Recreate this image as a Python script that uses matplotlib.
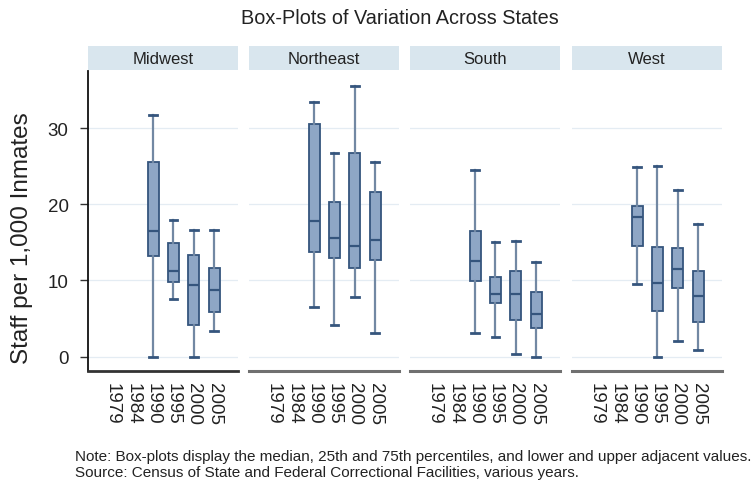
import matplotlib
matplotlib.use("Agg")
import matplotlib.pyplot as plt

plt.rcParams['font.family'] = ['Liberation Sans', 'DejaVu Sans']

regions = ["Midwest", "Northeast", "South", "West"]
years = ["1979", "1984", "1990", "1995", "2000", "2005"]
box_years = ["1990", "1995", "2000", "2005"]

# per region: lists over box_years
whislo = {
    "Midwest":   [0.0, 7.6, 0.0, 3.4],
    "Northeast": [6.5, 4.2, 7.8, 3.1],
    "South":     [3.1, 2.6, 0.35, 0.0],
    "West":      [9.5, 0.0, 2.0, 0.9],
}
q1 = {
    "Midwest":   [13.2, 9.8, 4.2, 5.8],
    "Northeast": [13.8, 13.0, 11.7, 12.7],
    "South":     [9.9, 7.05, 4.8, 3.8],
    "West":      [14.5, 6.0, 9.0, 4.5],
}
med = {
    "Midwest":   [16.5, 11.25, 9.4, 8.75],
    "Northeast": [17.85, 15.6, 14.5, 15.3],
    "South":     [12.55, 8.2, 8.2, 5.6],
    "West":      [18.3, 9.7, 11.5, 7.9],
}
q3 = {
    "Midwest":   [25.6, 14.9, 13.35, 11.7],
    "Northeast": [30.6, 20.3, 26.7, 21.6],
    "South":     [16.45, 10.45, 11.25, 8.5],
    "West":      [19.8, 14.45, 14.25, 11.3],
}
whishi = {
    "Midwest":   [31.75, 18.0, 16.6, 16.6],
    "Northeast": [33.4, 26.8, 35.55, 25.6],
    "South":     [24.5, 15.0, 15.15, 12.4],
    "West":      [24.85, 25.05, 21.9, 17.4],
}

title = "Box-Plots of Variation Across States"
ylabel = "Staff per 1,000 Inmates"
yticks = [0, 10, 20, 30]
note1 = "Note: Box-plots display the median, 25th and 75th percentiles, and lower and upper adjacent values."
note2 = "Source: Census of State and Federal Correctional Facilities, various years."

W, H = 752, 481
fig = plt.figure(figsize=(W / 100, H / 100), dpi=100)

lefts = [88, 249, 410, 572]
pw = 150
ax_top, ax_bot = 72, 372
hdr_top, hdr_bot = 47, 71

fill = '#8ea6c5'
edge = '#35557d'
whisk = '#7288a3'
grid_c = '#e4ecf3'

for i, reg in enumerate(regions):
    ax = fig.add_axes([lefts[i] / W, 1 - ax_bot / H, pw / W, (ax_bot - ax_top) / H])
    stats = []
    for j, y in enumerate(box_years):
        stats.append(dict(whislo=whislo[reg][j], q1=q1[reg][j], med=med[reg][j],
                          q3=q3[reg][j], whishi=whishi[reg][j], fliers=[], label=y))
    pos = [years.index(y) for y in box_years]
    ax.bxp(stats, positions=pos, widths=0.54, patch_artist=True, showfliers=False,
           boxprops=dict(facecolor=fill, edgecolor=edge, linewidth=1.3),
           medianprops=dict(color=edge, linewidth=1.6),
           whiskerprops=dict(color=whisk, linewidth=1.6),
           capprops=dict(color=edge, linewidth=2.0),
           capwidths=0.38, manage_ticks=False, zorder=3)
    ax.set_xlim(-1.2, 6.17)
    ax.set_ylim(-1.88, 37.5)
    ax.set_yticks(yticks)
    for yv in yticks:
        ax.axhline(yv, color=grid_c, lw=0.9, zorder=0)
    ax.set_xticks(range(len(years)))
    ax.set_xticklabels(years, rotation=270, fontsize=13.5, color='#222222')
    ax.tick_params(axis='x', length=0, pad=8)
    for s in ['top', 'right']:
        ax.spines[s].set_visible(False)
    if i == 0:
        ax.spines['left'].set_color('#111111')
        ax.spines['left'].set_linewidth(1.3)
        ax.spines['bottom'].set_color('#333333')
        ax.spines['bottom'].set_linewidth(2.0)
        ax.tick_params(axis='y', length=6, width=1, color='#333333', labelsize=13.5,
                       labelcolor='#222222', pad=8)
    else:
        ax.spines['left'].set_visible(False)
        ax.spines['bottom'].set_color('#707070')
        ax.spines['bottom'].set_linewidth(2.2)
        ax.tick_params(axis='y', left=False, labelleft=False)
    hx = fig.add_axes([lefts[i] / W, 1 - hdr_bot / H, pw / W, (hdr_bot - hdr_top) / H])
    hx.set_facecolor('#d9e6ee')
    hx.set_xticks([]); hx.set_yticks([])
    for s in hx.spines.values():
        s.set_visible(False)
    hx.text(0.5, 0.5, reg, ha='center', va='center', fontsize=12, color='#222222',
            transform=hx.transAxes)

fig.text(22 / W, 1 - 238 / H, ylabel, ha='center', va='center', rotation=90,
         fontsize=17.5, color='#222222')
fig.text(400 / W, 1 - 19 / H, title, ha='center', va='center', fontsize=14.3, color='#222222')
fig.text(75 / W, 1 - 457 / H, note1, ha='left', va='center', fontsize=11, color='#222222')
fig.text(75 / W, 1 - 473 / H, note2, ha='left', va='center', fontsize=11, color='#222222')

fig.savefig('out.png', dpi=100, facecolor='white')
